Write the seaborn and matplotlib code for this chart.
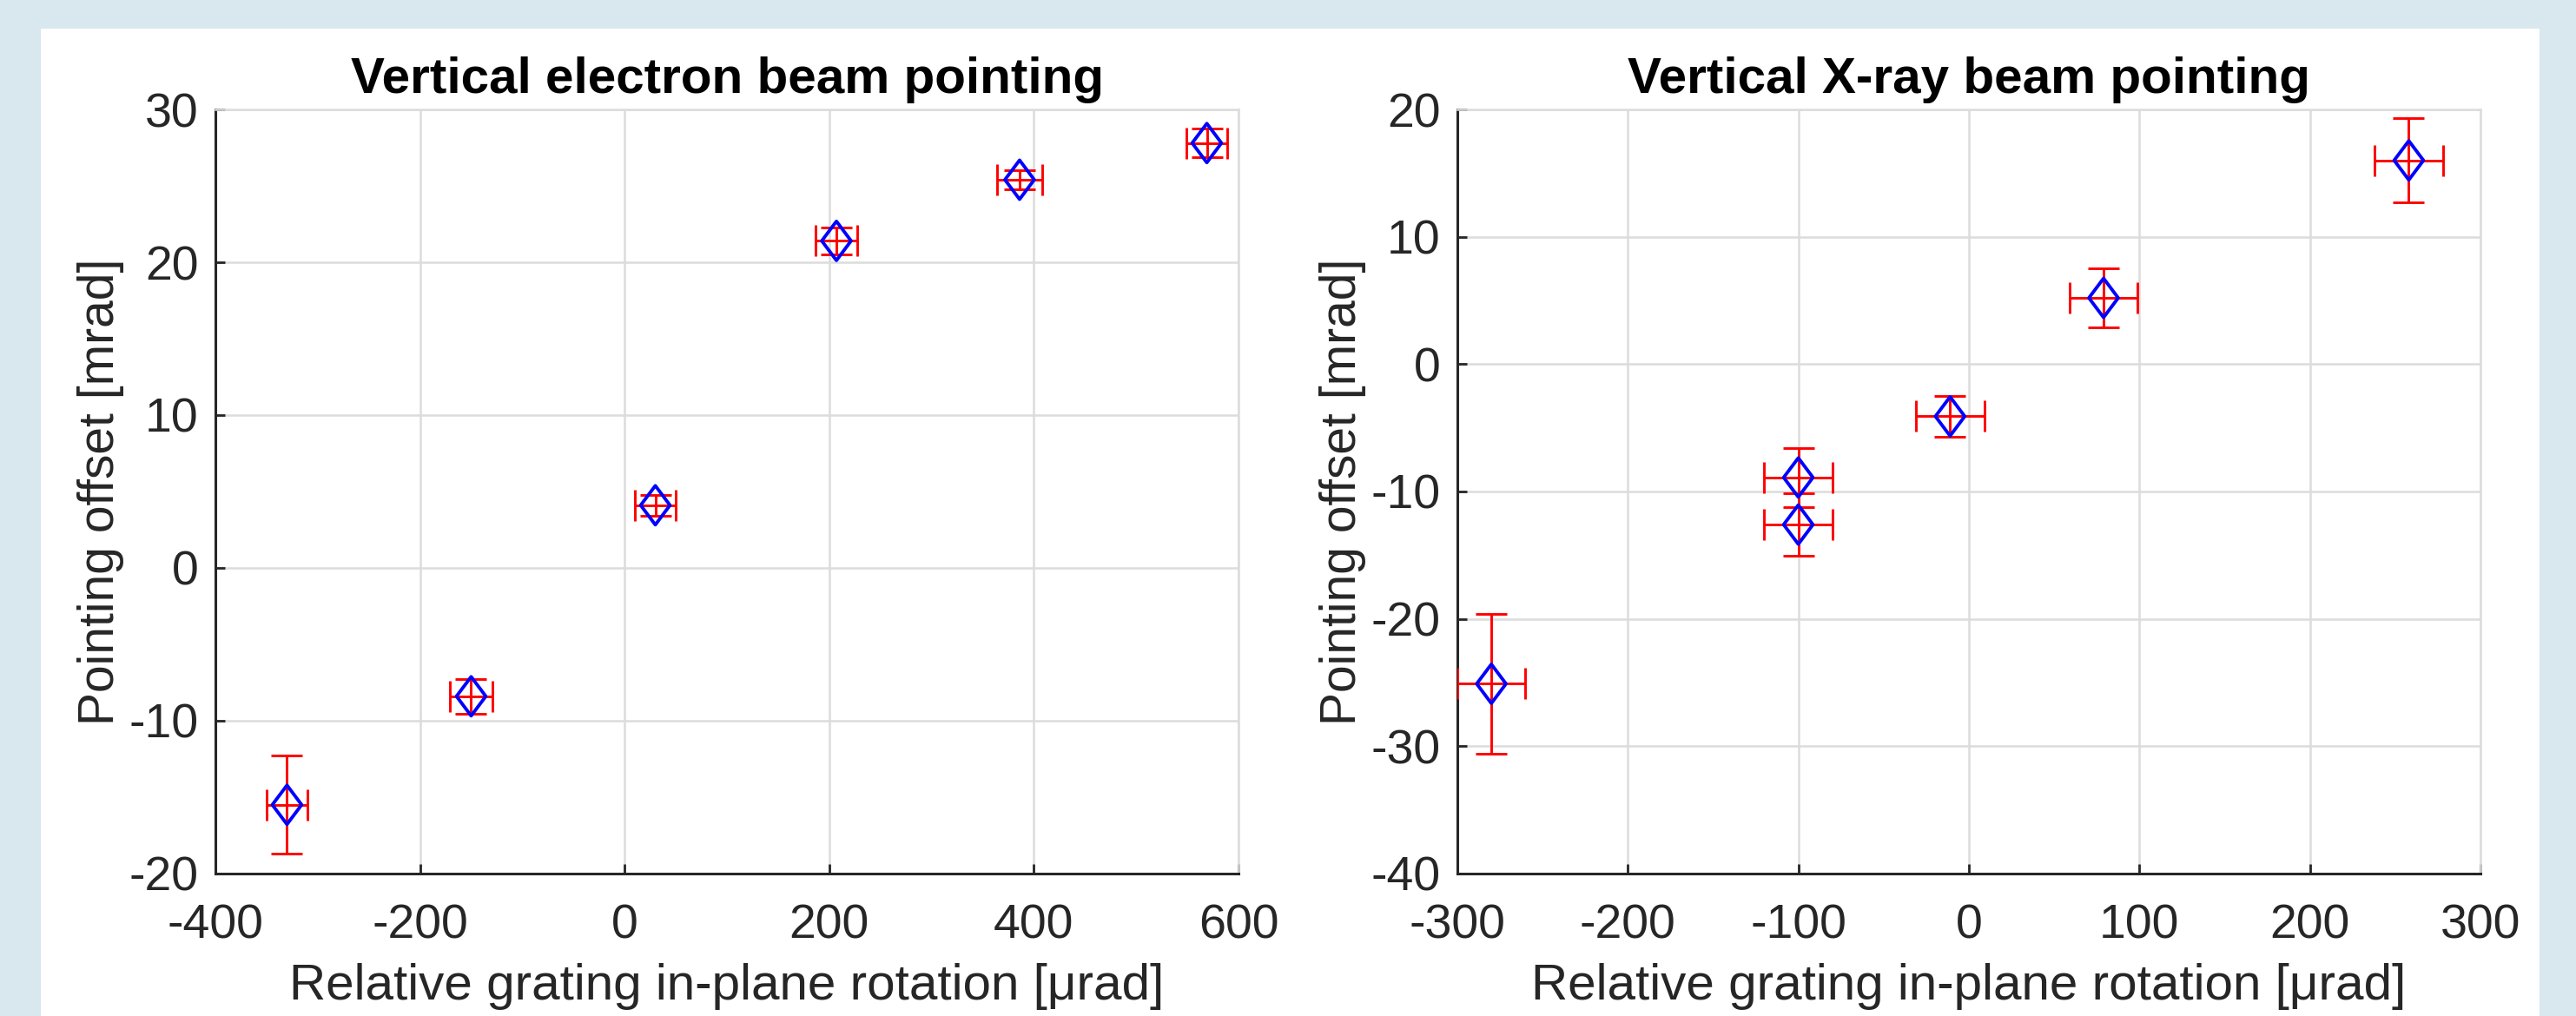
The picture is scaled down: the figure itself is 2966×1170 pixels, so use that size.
import numpy as np
import matplotlib
matplotlib.use("Agg")
import matplotlib.pyplot as plt
import seaborn as sns
from matplotlib.patches import Rectangle
from matplotlib.path import Path

# electron beam pointing vs grating rotation
e_rot = [-330, -150, 30, 207, 386, 569]
e_offset = [-15.5, -8.4, 4.1, 21.4, 25.4, 27.8]
e_rot_err = [20, 21, 20, 20, 22, 20]
e_offset_err = [3.2, 1.15, 0.7, 0.9, 0.6, 0.95]

# x-ray beam pointing vs grating rotation
x_rot = [-280, -100, -100, -11, 79, 258]
x_offset = [-25.1, -8.9, -12.6, -4.1, 5.2, 16.0]
x_rot_err = [20, 20, 20, 20, 20, 20]
x_offset_err = [5.5, 2.3, 2.45, 1.6, 2.3, 3.3]

titles = ["Vertical electron beam pointing", "Vertical X-ray beam pointing"]
xlabel = "Relative grating in-plane rotation [\u03bcrad]"
ylabel = "Pointing offset [mrad]"
e_xticks = [-400, -200, 0, 200, 400, 600]
e_yticks = [-20, -10, 0, 10, 20, 30]
x_xticks = [-300, -200, -100, 0, 100, 200, 300]
x_yticks = [-40, -30, -20, -10, 0, 10, 20]

sns.set_theme(style="white")
plt.rcParams["font.family"] = ["Liberation Sans", "DejaVu Sans"]
plt.rcParams["axes.unicode_minus"] = False

fig = plt.figure(figsize=(29.66, 11.70), dpi=100)
fig.patch.set_facecolor("#d9e7ee")
panel = Rectangle((47 / 2966, 0), (2924 - 47) / 2966, (1170 - 33) / 1170,
                  transform=fig.transFigure, facecolor="white",
                  edgecolor="none", zorder=-10)
fig.patches.append(panel)

ax1 = fig.add_axes([0.0836, 0.1402, 0.3972, 0.7521])
ax2 = fig.add_axes([0.5657, 0.1402, 0.3972, 0.7521])

diamond = Path([(0, 1), (0.75, 0), (0, -1), (-0.75, 0), (0, 1)],
               [Path.MOVETO, Path.LINETO, Path.LINETO, Path.LINETO, Path.CLOSEPOLY])

text_col = "#262626"
grid_col = "#dcdcdc"


def draw(ax, xs, ys, xe, ye, xt, yt, title):
    ax.errorbar(xs, ys, xerr=xe, yerr=ye, fmt="none", ecolor="#ff0000",
                elinewidth=2.1, capsize=13, capthick=2.1, zorder=3)
    sns.scatterplot(x=xs, y=ys, ax=ax, marker=diamond, s=1050,
                    edgecolor="#0000ff", linewidth=2.8, zorder=4, legend=False)
    ax.collections[-1].set_facecolor("none")
    ax.collections[-1].set_edgecolor("#0000ff")
    ax.set_xlim(xt[0], xt[-1])
    ax.set_ylim(yt[0], yt[-1])
    ax.set_xticks(xt)
    ax.set_yticks(yt)
    ax.grid(True, color=grid_col, linewidth=1.8)
    ax.set_axisbelow(True)
    for side in ["left", "bottom"]:
        ax.spines[side].set_color(text_col)
        ax.spines[side].set_linewidth(2.2)
    for side in ["top", "right"]:
        ax.spines[side].set_color(grid_col)
        ax.spines[side].set_linewidth(1.8)
    ax.tick_params(direction="in", length=8, width=2, colors=text_col,
                   labelsize=40, top=False, right=False, bottom=True, left=True)
    ax.tick_params(axis="x", pad=25)
    ax.tick_params(axis="y", pad=14)
    ax.set_title(title, fontsize=42, fontweight="bold", color="black", pad=14)
    ax.set_xlabel(xlabel, fontsize=42, color=text_col, labelpad=12)
    ax.set_ylabel(ylabel, fontsize=41, color=text_col, labelpad=4)


draw(ax1, e_rot, e_offset, e_rot_err, e_offset_err, e_xticks, e_yticks, titles[0])
draw(ax2, x_rot, x_offset, x_rot_err, x_offset_err, x_xticks, x_yticks, titles[1])

fig.savefig("out.png", dpi=100, facecolor=fig.get_facecolor())
